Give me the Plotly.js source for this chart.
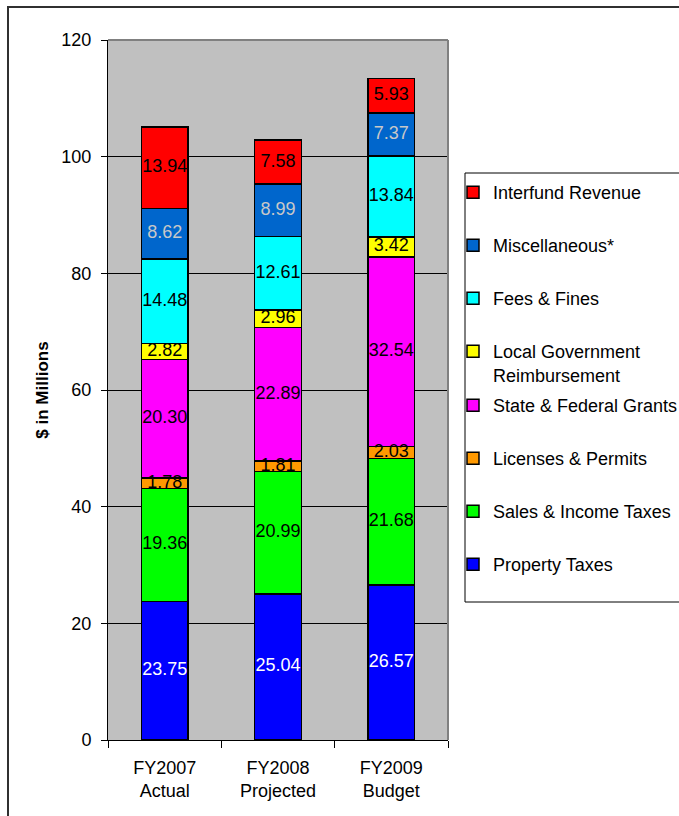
<!DOCTYPE html>
<html>
<head>
<meta charset="utf-8">
<script src="https://cdn.plot.ly/plotly-3.0.1.min.js"></script>
<style>
  html, body { margin: 0; padding: 0; background: #ffffff; }
  #chart { width: 679px; height: 816px; }
</style>
</head>
<body>
<div id="chart"></div>
<script>
// ---- data ----
const categories = ["FY2007<br>Actual", "FY2008<br>Projected", "FY2009<br>Budget"];

const propertyTaxes   = [23.75, 25.04, 26.57];
const salesIncome     = [19.36, 20.99, 21.68];
const licensesPermits = [1.78, 1.81, 2.03];
const stateFederal    = [20.30, 22.89, 32.54];
const localGovReimb   = [2.82, 2.96, 3.42];
const feesFines       = [14.48, 12.61, 13.84];
const miscellaneous   = [8.62, 8.99, 7.37];
const interfund       = [13.94, 7.58, 5.93];

const seriesNames = [
  "Property Taxes",
  "Sales & Income Taxes",
  "Licenses & Permits",
  "State & Federal Grants",
  "Local Government<br>Reimbursement",
  "Fees & Fines",
  "Miscellaneous*",
  "Interfund Revenue"
];
const seriesValues = [propertyTaxes, salesIncome, licensesPermits, stateFederal,
                      localGovReimb, feesFines, miscellaneous, interfund];
const seriesColors = ["#0000FF", "#00FF00", "#FF9900", "#FF00FF",
                      "#FFFF00", "#00FFFF", "#0066CC", "#FF0000"];
const labelColors  = ["#FFFFFF", "#000000", "#000000", "#000000",
                      "#000000", "#000000", "#C8C8C8", "#000000"];
const legendOf     = ["legend2", "legend2", "legend2", "legend2",
                      "legend", "legend", "legend", "legend"];

const yTickVals = [0, 20, 40, 60, 80, 100, 120];

const FONT = "Arial, 'Liberation Sans', sans-serif";

// stacked bars
const barTraces = seriesNames.map((name, i) => ({
  type: "bar",
  name: name,
  x: categories,
  y: seriesValues[i],
  legend: legendOf[i],
  legendgroup: "g" + i,
  legendrank: 100 - i,
  marker: { color: seriesColors[i], line: { color: "#000000", width: 1.5 } },
  hoverinfo: "name+y"
}));

// data labels drawn on top of every bar (centre of each stacked segment)
const labelTraces = seriesNames.map((name, i) => {
  const mids = seriesValues[i].map((v, k) => {
    let base = 0;
    for (let j = 0; j < i; j++) base += seriesValues[j][k];
    return base + v / 2;
  });
  return {
    type: "scatter",
    mode: "text",
    x: categories,
    y: mids,
    text: seriesValues[i].map(v => v.toFixed(2)),
    textposition: "middle center",
    textfont: { family: FONT, size: 18, color: labelColors[i] },
    showlegend: false,
    cliponaxis: false,
    hoverinfo: "skip"
  };
});

const W = 679, H = 816;
const L = 108, R = 231, T = 40, B = 76;
const pw = W - L - R, ph = H - T - B;
const px = x => (x - L) / pw;          // pixel -> paper x
const py = y => (H - B - y) / ph;      // pixel -> paper y

const legendCommon = {
  xanchor: "left", yanchor: "top",
  bgcolor: "rgba(0,0,0,0)", borderwidth: 0,
  traceorder: "grouped", tracegroupgap: 26.6,
  valign: "top",
  font: { family: FONT, size: 18, color: "#000000" }
};

const layout = {
  width: W, height: H,
  margin: { l: L, r: R, t: T, b: B, pad: 0, autoexpand: false },
  paper_bgcolor: "#FFFFFF",
  plot_bgcolor: "#C0C0C0",
  barmode: "stack",
  bargap: 0.588,
  font: { family: FONT, size: 18, color: "#000000" },
  showlegend: true,
  xaxis: {
    type: "category",
    showgrid: false,
    showline: true, linecolor: "#000000", linewidth: 1,
    ticks: "outside", tickson: "boundaries", ticklen: 7, tickcolor: "#000000", tickwidth: 1,
    tickfont: { family: FONT, size: 18, color: "#000000" },
    ticklabelstandoff: 11,
    fixedrange: true
  },
  yaxis: {
    range: [0, 120],
    tickvals: yTickVals,
    ticktext: yTickVals.map(String),
    showgrid: true, gridcolor: "#000000", gridwidth: 1,
    zeroline: false,
    showline: true, linecolor: "#000000", linewidth: 1,
    ticks: "outside", ticklen: 6, tickcolor: "#000000", tickwidth: 1,
    tickfont: { family: FONT, size: 18, color: "#000000" },
    ticklabelstandoff: 6,
    title: { text: "<b>$ in Millions</b>", font: { family: FONT, size: 17, color: "#000000" }, standoff: 8 },
    fixedrange: true
  },
  legend:  Object.assign({ x: px(453), y: py(174) }, legendCommon),
  legend2: Object.assign({ x: px(453), y: py(387) }, legendCommon),
  shapes: [
    // plot-area border (top and right, grey)
    { type: "line", xref: "paper", yref: "paper", x0: 0, x1: 1, y0: 1, y1: 1,
      line: { color: "#808080", width: 2 }, layer: "above" },
    { type: "line", xref: "paper", yref: "paper", x0: 1, x1: 1, y0: 0, y1: 1,
      line: { color: "#808080", width: 2 }, layer: "above" },
    // legend box
    { type: "rect", xref: "paper", yref: "paper",
      x0: px(465), x1: px(700), y0: py(602), y1: py(173),
      line: { color: "#000000", width: 1 }, fillcolor: "rgba(0,0,0,0)", layer: "below" },
    // outer chart frame
    { type: "rect", xref: "paper", yref: "paper",
      x0: px(8), x1: px(720), y0: py(860), y1: py(7),
      line: { color: "#303030", width: 2 }, fillcolor: "rgba(0,0,0,0)", layer: "below" }
  ]
};

Plotly.newPlot("chart", barTraces.concat(labelTraces), layout, { displayModeBar: false, staticPlot: true });
</script>
</body>
</html>
